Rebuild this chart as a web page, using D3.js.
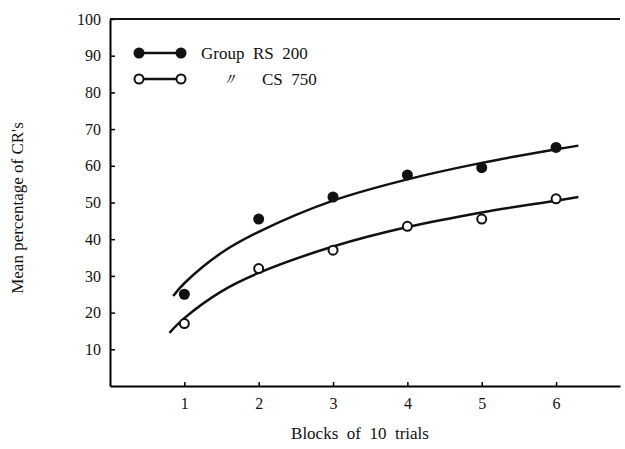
<!DOCTYPE html>
<html>
<head>
<meta charset="utf-8">
<script src="https://cdn.jsdelivr.net/npm/d3@7"></script>
<style>
  body { margin: 0; background: #fff; }
  text { font-family: "Liberation Serif", "DejaVu Serif", serif; fill: #111; }
</style>
</head>
<body>
<svg width="625" height="449"></svg>
<script>
// blocks and the observed means for each group
const blocks = [1, 2, 3, 4, 5, 6]
const rs200 = [25, 45.5, 51.5, 57.5, 59.5, 65]
const cs750 = [17, 32, 37, 43.5, 45.5, 51]

// the hand-drawn fitted curves
const curveX = [0.85, 1, 1.5, 2, 3, 4, 5, 6, 6.3]
const rsCurve = [24.5, 28, 36.3, 42, 50.5, 56.3, 60.8, 64.5, 65.5]
const csCurveX = [0.8, 1, 1.5, 2, 3, 4, 5, 6, 6.3]
const csCurve = [14.5, 18.5, 25.8, 30.8, 38, 43.3, 47.3, 50.5, 51.5]

const yTicks = [10, 20, 30, 40, 50, 60, 70, 80, 90, 100]

const svg = d3.select('svg')
const margin = {top: 19, right: 5, bottom: 63, left: 110}
const width = +svg.attr('width')
const height = +svg.attr('height')
const innerWidth = width - margin.left - margin.right
const innerHeight = height - margin.top - margin.bottom

const x = d3.scaleLinear().domain([0, 6.86]).range([0, innerWidth])
const y = d3.scaleLinear().domain([0, 100]).range([innerHeight, 0])

const g = svg.append('g').attr('transform', `translate(${margin.left},${margin.top})`)

// axes with inward ticks
const yAxis = g.append('g')
  .call(d3.axisLeft(y).tickValues(yTicks).tickSizeInner(-5).tickSizeOuter(0).tickPadding(9))
yAxis.select('.domain').attr('stroke-width', 2)
yAxis.selectAll('.tick line').attr('stroke-width', 1.5)
yAxis.selectAll('text').attr('font-size', 16)

const xAxis = g.append('g')
  .attr('transform', `translate(0,${innerHeight})`)
  .call(d3.axisBottom(x).tickValues(blocks).tickFormat(d3.format('d'))
    .tickSizeInner(-4).tickSizeOuter(0).tickPadding(12))
xAxis.select('.domain').attr('stroke-width', 2)
xAxis.selectAll('.tick line').attr('stroke-width', 1.5)
xAxis.selectAll('text').attr('font-size', 16)

// top frame line
g.append('line')
  .attr('x1', 0).attr('x2', innerWidth)
  .attr('y1', y(100)).attr('y2', y(100))
  .attr('stroke', '#111').attr('stroke-width', 2)

// fitted curves
const line = d3.line().curve(d3.curveCatmullRom.alpha(0.5)).x(d => x(d[0])).y(d => y(d[1]))
g.append('path')
  .datum(d3.zip(curveX, rsCurve))
  .attr('d', line).attr('fill', 'none').attr('stroke', '#111').attr('stroke-width', 2.5)
g.append('path')
  .datum(d3.zip(csCurveX, csCurve))
  .attr('d', line).attr('fill', 'none').attr('stroke', '#111').attr('stroke-width', 2.5)

// data points
g.selectAll('.rs').data(d3.zip(blocks, rs200))
  .enter().append('circle')
    .attr('cx', d => x(d[0])).attr('cy', d => y(d[1])).attr('r', 5.5)
    .attr('fill', '#111')
g.selectAll('.cs').data(d3.zip(blocks, cs750))
  .enter().append('circle')
    .attr('cx', d => x(d[0])).attr('cy', d => y(d[1])).attr('r', 4.5)
    .attr('fill', '#fff').attr('stroke', '#111').attr('stroke-width', 2)

// legend
const legend = svg.append('g')
legend.append('line').attr('x1', 139).attr('x2', 181).attr('y1', 53).attr('y2', 53)
  .attr('stroke', '#111').attr('stroke-width', 2.5)
legend.append('circle').attr('cx', 139).attr('cy', 53).attr('r', 5.5).attr('fill', '#111')
legend.append('circle').attr('cx', 181).attr('cy', 53).attr('r', 5.5).attr('fill', '#111')
legend.append('line').attr('x1', 139).attr('x2', 181).attr('y1', 79).attr('y2', 79)
  .attr('stroke', '#111').attr('stroke-width', 2.5)
legend.append('circle').attr('cx', 139).attr('cy', 79).attr('r', 4.5)
  .attr('fill', '#fff').attr('stroke', '#111').attr('stroke-width', 2)
legend.append('circle').attr('cx', 181).attr('cy', 79).attr('r', 4.5)
  .attr('fill', '#fff').attr('stroke', '#111').attr('stroke-width', 2)
legend.append('text').attr('x', 201).attr('y', 59).attr('font-size', 17)
  .attr('xml:space', 'preserve').text('Group  RS  200')
legend.append('text').attr('x', 221).attr('y', 85).attr('font-size', 17)
  .attr('font-style', 'italic').text('〃')
legend.append('text').attr('x', 262).attr('y', 85).attr('font-size', 17)
  .attr('xml:space', 'preserve').text('CS  750')

// axis titles
svg.append('text')
  .attr('transform', 'translate(23,208) rotate(-90)')
  .attr('text-anchor', 'middle').attr('font-size', 17)
  .text("Mean percentage of CR's")
svg.append('text')
  .attr('x', 360).attr('y', 439)
  .attr('text-anchor', 'middle').attr('font-size', 17)
  .attr('xml:space', 'preserve')
  .text('Blocks  of  10  trials')
</script>
</body>
</html>
